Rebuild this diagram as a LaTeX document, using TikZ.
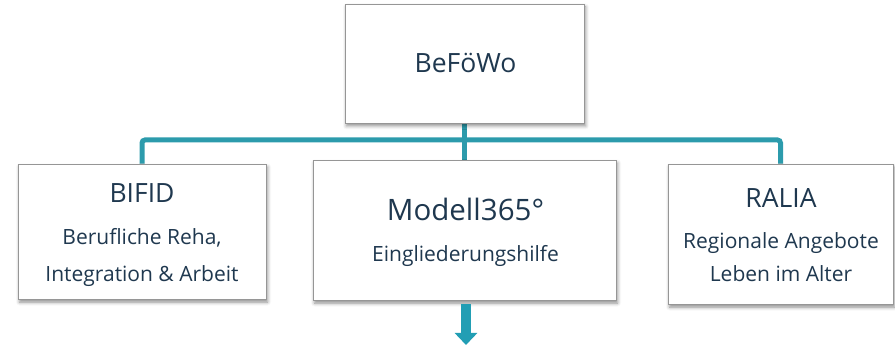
\documentclass[tikz,border=0pt]{standalone}
\usepackage{fontspec}
\setmainfont{Open Sans}
\usetikzlibrary{shadows.blur,arrows.meta,backgrounds}
\definecolor{teal1}{RGB}{44,155,172}
\definecolor{teal2}{RGB}{34,158,180}
\definecolor{navy}{RGB}{31,56,79}
\definecolor{boxline}{RGB}{150,150,150}
\tikzset{
  box/.style={draw=boxline, line width=0.8pt, fill=white, inner sep=0pt,
    blur shadow={shadow xshift=1.5pt, shadow yshift=-3pt, shadow blur radius=3.5pt, shadow opacity=45}},
  ttl/.style={anchor=base, text=navy, font=\fontsize{26.5}{30}\selectfont, inner sep=0pt},
  bigttl/.style={anchor=base, text=navy, font=\fontsize{29.5}{34}\selectfont, inner sep=0pt},
  sub/.style={anchor=base, text=navy, font=\fontsize{21}{25}\selectfont, inner sep=0pt},
  conn/.style={draw=teal1, line width=5pt, rounded corners=3pt},
  downarrow/.style={draw=teal2, line width=10pt, -{Triangle[width=22pt,length=12pt]}, shorten <=4pt}
}
\begin{document}
\begin{tikzpicture}[x=1pt,y=1pt]
\useasboundingbox (0,0) rectangle (895,-347);
\coordinate (bus) at (464.5,-140);
\node[box, minimum width=239pt, minimum height=119pt] (top) at (464.5,-63.5) {};
\node[box, minimum width=248pt, minimum height=135pt] (bifid) at (142,-231.5) {};
\node[box, minimum width=303pt, minimum height=140pt] (mid) at (464.5,-230) {};
\node[box, minimum width=225pt, minimum height=140pt] (ralia) at (780.5,-234) {};
\begin{scope}[on background layer]
\draw[conn] (bifid.north) |- (bus) -| (ralia.north);
\draw[conn] (top.south) -- (mid.north);
\end{scope}
% texts
\node[ttl] (t0) at (465.5,-73) {BeFöWo};
\node[ttl] (t1) at (142,-203) {BIFID};
\node[sub] (s1a) at (142,-245) {Berufliche Reha,};
\node[sub] (s1b) at (142,-282) {Integration \& Arbeit};
\node[bigttl] (t2) at (465.5,-221) {Modell365°};
\node[sub] (s2) at (465.5,-262) {Eingliederungshilfe};
\node[ttl] (t3) at (781,-208) {RALIA};
\node[sub] (s3a) at (781,-249) {Regionale Angebote};
\node[sub] (s3b) at (781,-282) {Leben im Alter};
% arrow
\coordinate (arrowend) at (466,-345);
\draw[downarrow] (arrowend |- mid.south) -- (arrowend);
\end{tikzpicture}
\end{document}
